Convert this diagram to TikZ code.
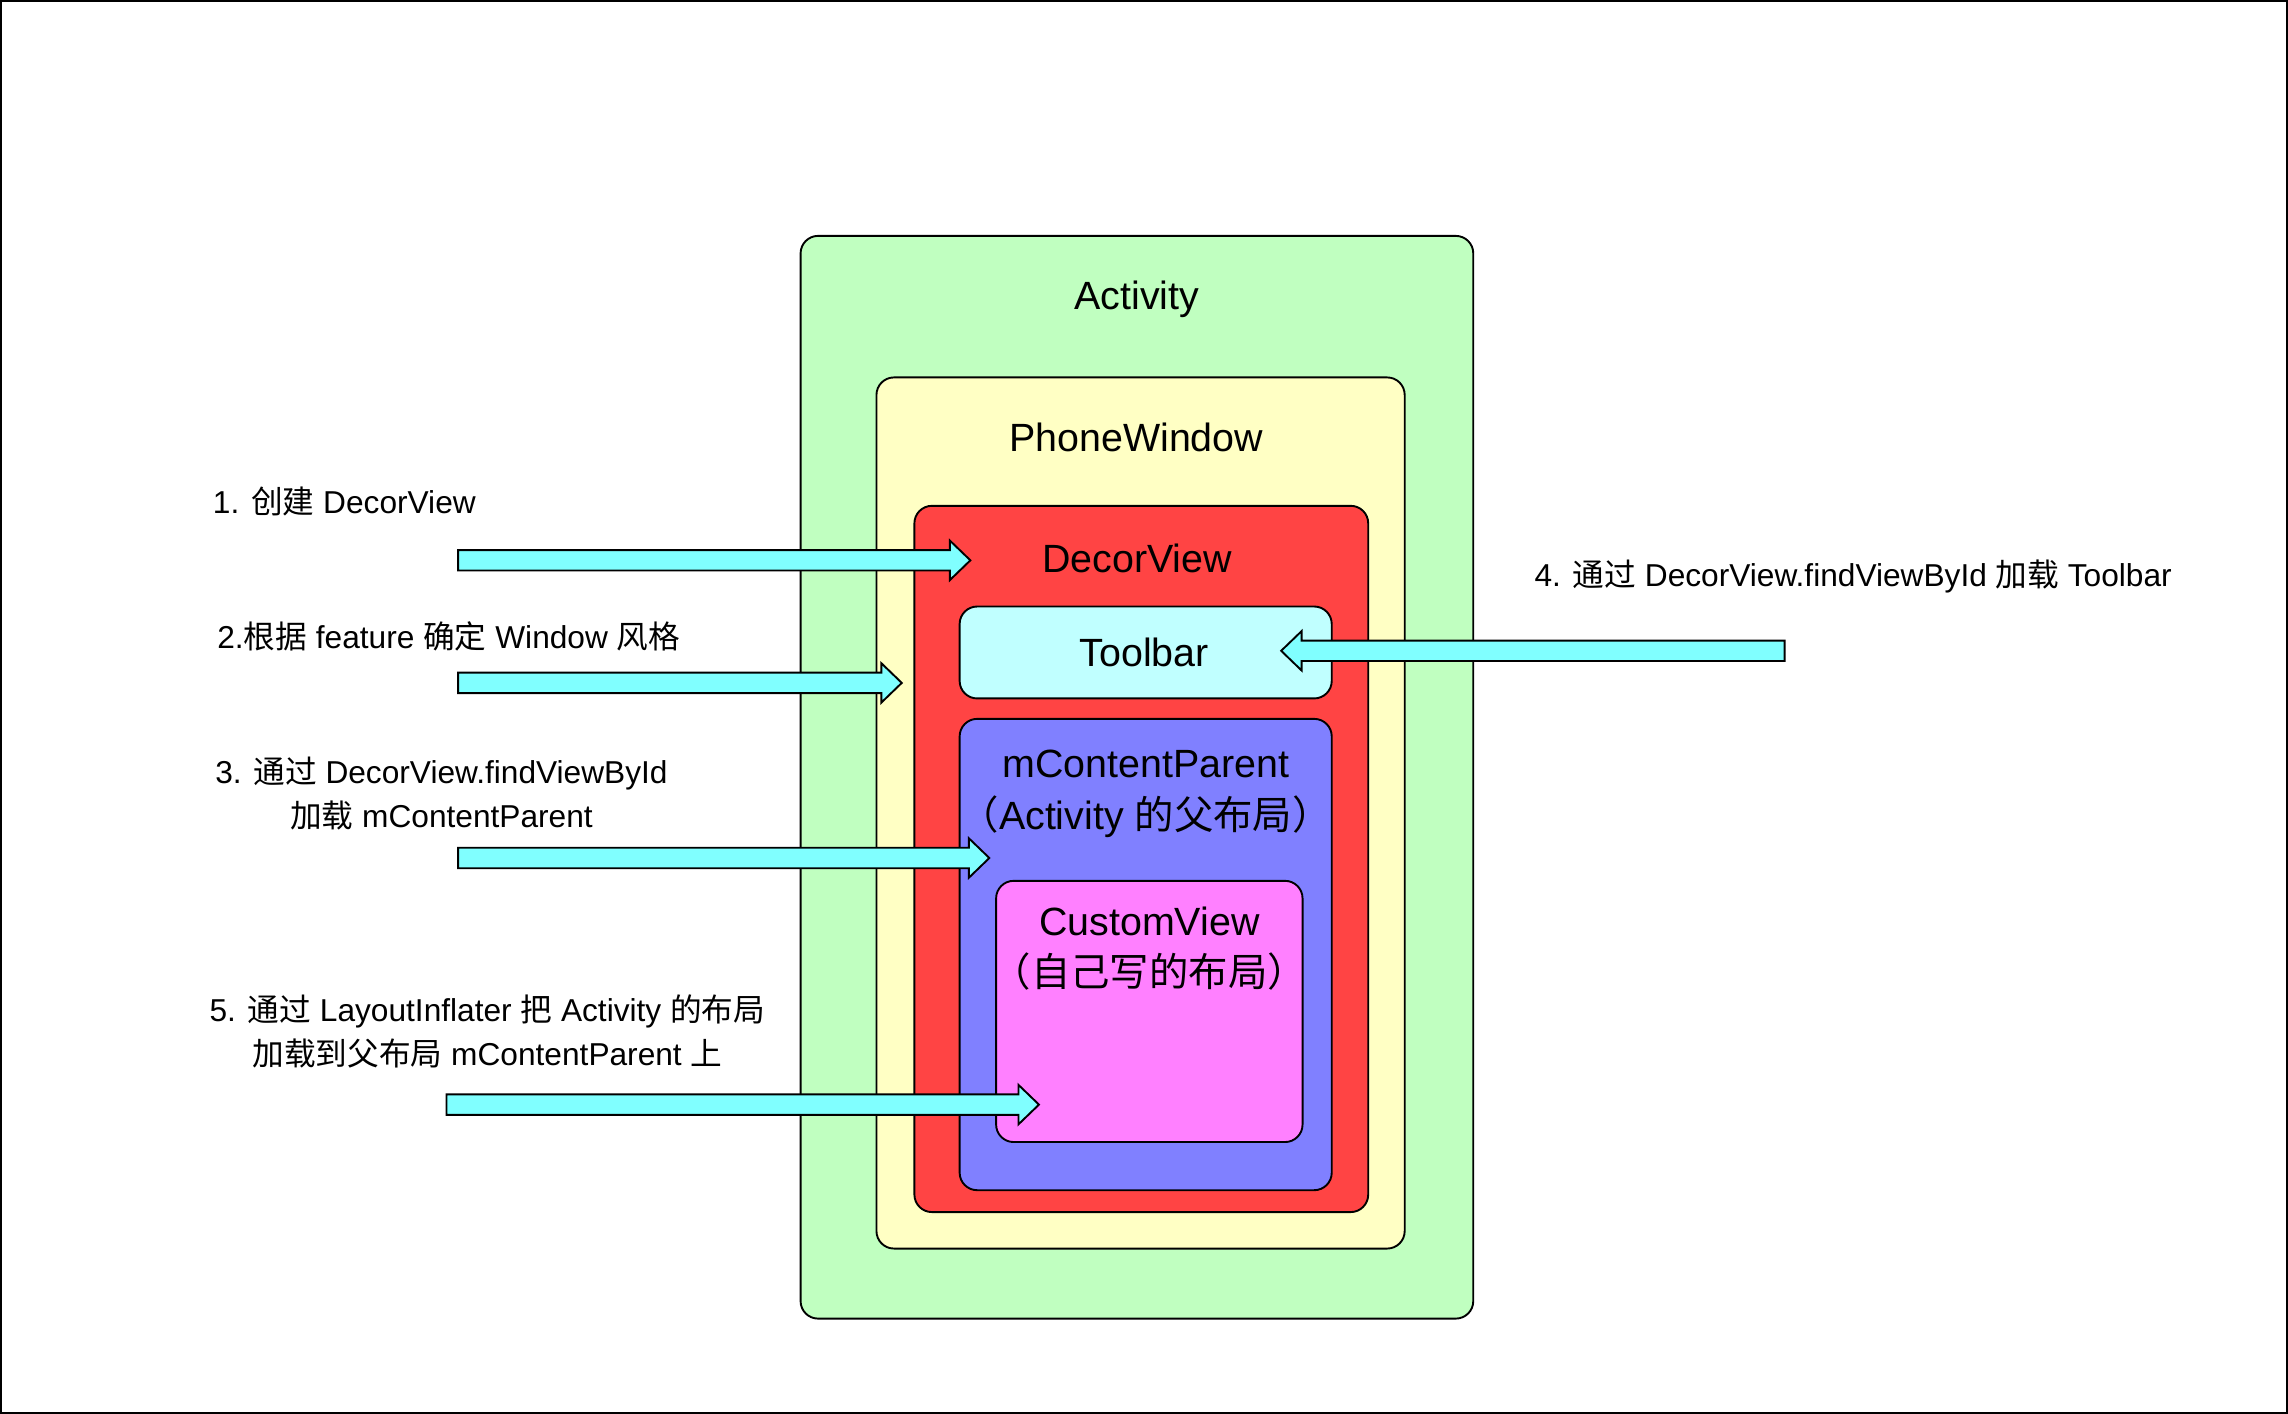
\documentclass[tikz,border=0pt]{standalone}
\usepackage{fontspec}
\setmainfont{Liberation Sans}
\newfontfamily\cjk{Noto Sans CJK SC}
\usepackage{tikz}
\usetikzlibrary{positioning,calc}

\definecolor{actgreen}{HTML}{C0FFC0}
\definecolor{winyellow}{HTML}{FFFFC4}
\definecolor{decorred}{HTML}{FF4444}
\definecolor{toolcyan}{HTML}{C0FFFF}
\definecolor{parentblue}{HTML}{8080FF}
\definecolor{custompink}{HTML}{FF80FF}
\definecolor{arrowcyan}{HTML}{80FFFF}

\newcommand\zh[1]{{\cjk #1}}
\newcommand\blockarrow[2]{%
  \draw[fatarrow] let \p1=(#1), \p2=(#2), \n1={(\x2>\x1)*2-1} in
    (\x1,{\y1+7pt}) -- ({\x2-\n1*14pt},{\y1+7pt}) -- ({\x2-\n1*14pt},{\y1+13.5pt})
    -- (\x2,\y1) -- ({\x2-\n1*14pt},{\y1-13.5pt}) -- ({\x2-\n1*14pt},{\y1-7pt})
    -- (\x1,{\y1-7pt}) -- cycle;}

\begin{document}
\begin{tikzpicture}[x=1pt,y=-1pt,
    box/.style={draw,line width=1.3pt,rounded corners=12pt,anchor=north west,inner sep=0pt},
    title/.style={font=\fontsize{27}{35}\selectfont,align=center,inner sep=0pt},
    step label/.style={font=\fontsize{21.7}{30}\selectfont,align=center,inner sep=0pt},
    fatarrow/.style={draw,fill=arrowcyan,line width=1.3pt,line join=miter}]
   \useasboundingbox (0,0) rectangle (1568,969);
   \draw[line width=1.6pt] (0.8,0.8) rectangle (1567.2,968.2);

   \node[box,fill=actgreen,minimum width=461,minimum height=742] (act) at (548,161) {};
   \node[box,fill=winyellow,minimum width=362,minimum height=597] (win) at (600,258) {};
   \node[box,fill=decorred,minimum width=311,minimum height=484] (decor) at (626,346) {};
   \node[box,fill=toolcyan,minimum width=255,minimum height=63] (tool) at (657,415) {};
   \node[box,fill=parentblue,minimum width=255,minimum height=323] (parent) at (657,492) {};
   \node[box,fill=custompink,minimum width=210,minimum height=179] (custom) at (682,603) {};

   \node[title] (actT) at ([yshift=-44pt]act.north) {Activity};
   \node[title] (winT) at ([xshift=-3pt,yshift=-42pt]win.north) {PhoneWindow};
   \node[title] (decorT) at ([xshift=-3pt,yshift=-37pt]decor.north) {DecorView};
   \node[title] (toolT) at ([xshift=-1pt]tool.center) {Toolbar};
   \node[title] (parentT) at ([yshift=-52pt]parent.north) {mContentParent\\\zh{（}Activity \zh{的父布局）}};
   \node[title] (customT) at ([yshift=-47pt]custom.north) {CustomView\\\zh{（自己写的布局）}};

   \node[step label] (l1) at (236,344) {1. \zh{创建} DecorView};
   \node[step label] (l2) at (307.5,436) {2.\zh{根据} feature \zh{确定} Window \zh{风格}};
   \node[step label] (l3) at (302.5,544) {3. \zh{通过} DecorView.findViewById\\\zh{加载} mContentParent};
   \node[step label] (l4) at (1270,395) {4. \zh{通过} DecorView.findViewById \zh{加载} Toolbar};
   \node[step label] (l5) at (334,707) {5. \zh{通过} LayoutInflater \zh{把} Activity \zh{的布局}\\\zh{加载到父布局} mContentParent \zh{上}};

   \coordinate (s1) at (314,384);  \coordinate (e1) at (665,384);
   \coordinate (s2) at (314,468);  \coordinate (e2) at (618,468);
   \coordinate (s3) at (314,588);  \coordinate (e3) at (678,588);
   \coordinate (s4) at (1223,446); \coordinate (e4) at (878,446);
   \coordinate (s5) at (306,757);  \coordinate (e5) at (712,757);
   \blockarrow{s1}{e1}
   \blockarrow{s2}{e2}
   \blockarrow{s3}{e3}
   \blockarrow{s4}{e4}
   \blockarrow{s5}{e5}
\end{tikzpicture}
\end{document}
